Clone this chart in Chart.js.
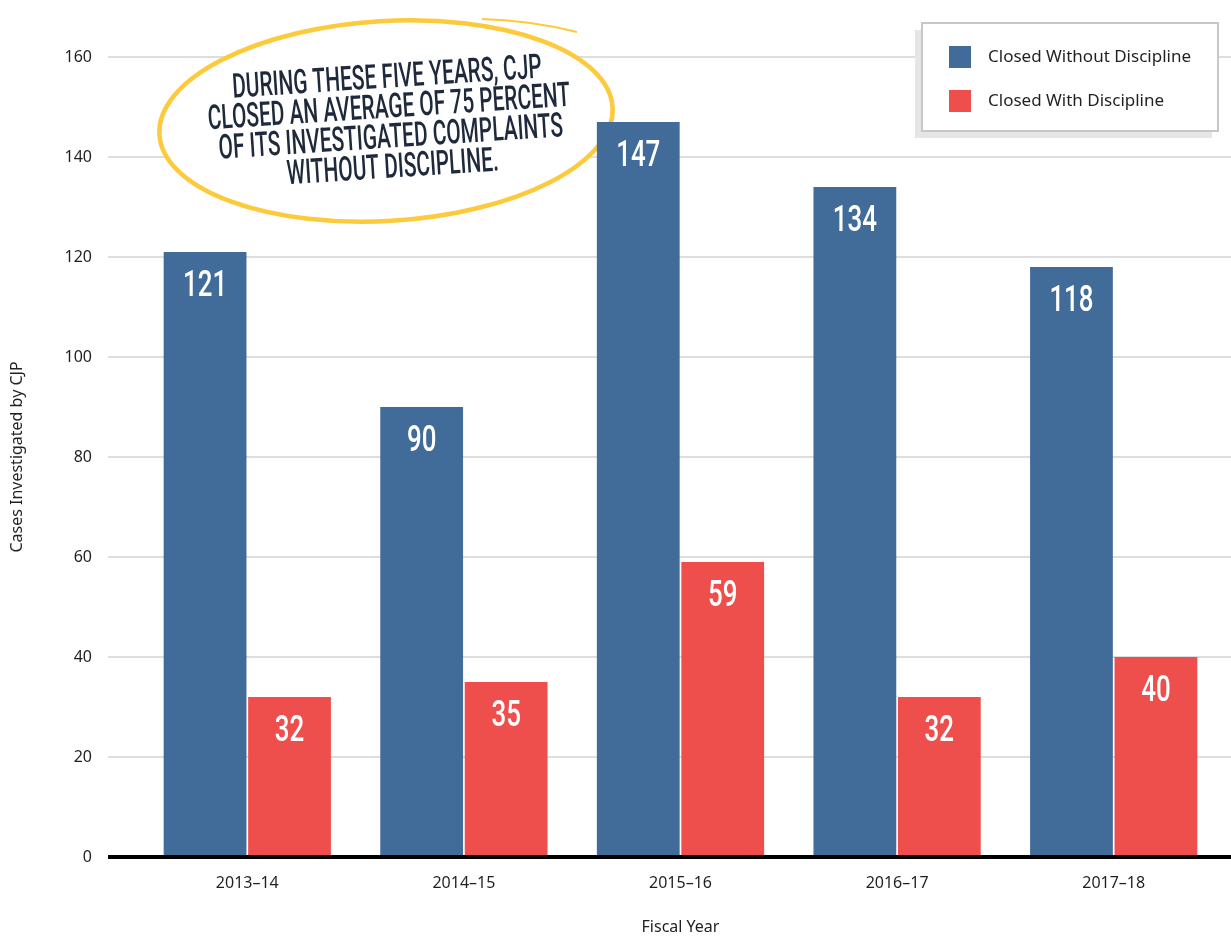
<!DOCTYPE html>
<html>
<head>
<meta charset="utf-8">
<script src="https://cdn.jsdelivr.net/npm/chart.js@4.4.0/dist/chart.umd.min.js"></script>
<style>
  html, body { margin: 0; padding: 0; background: #fff; }
</style>
</head>
<body>
<canvas id="canvas" width="1231" height="937"></canvas>
<script>
const years = ['2013–14', '2014–15', '2015–16', '2016–17', '2017–18']
const withoutDiscipline = [121, 90, 147, 134, 118]
const withDiscipline = [32, 35, 59, 32, 40]
const seriesNames = ['Closed Without Discipline', 'Closed With Discipline']
const seriesColors = ['#416b98', '#ef4f4c']
const yTicks = [0, 20, 40, 60, 80, 100, 120, 140, 160]
const calloutLines = [
  'DURING THESE FIVE YEARS, CJP',
  'CLOSED AN AVERAGE OF 75 PERCENT',
  'OF ITS INVESTIGATED COMPLAINTS',
  'WITHOUT DISCIPLINE.'
]

const textColor = '#231f20'
const baseFont = 'Noto Sans'
const condFont = 'Roboto, "DejaVu Sans Condensed", sans-serif'

// gridlines + yellow callout, under the bars
const backdrop = {
  id: 'backdrop',
  beforeDatasetsDraw(chart) {
    const ctx = chart.ctx
    const y = chart.scales.y
    ctx.save()
    ctx.strokeStyle = '#dedede'
    ctx.lineWidth = 2
    yTicks.forEach(v => {
      if (v === 0) return
      const py = Math.round(y.getPixelForValue(v))
      ctx.beginPath()
      ctx.moveTo(108, py)
      ctx.lineTo(1231, py)
      ctx.stroke()
    })

    // callout bubble
    ctx.beginPath()
    ctx.ellipse(386, 121, 227, 100, -0.06, 0, Math.PI * 2)
    ctx.fillStyle = '#fff'
    ctx.fill()
    ctx.strokeStyle = '#fcca3a'
    ctx.lineWidth = 4.5
    ctx.stroke()
    // little overlapping tail of the hand drawn loop
    ctx.beginPath()
    ctx.moveTo(482, 19)
    ctx.quadraticCurveTo(535, 21, 577, 32)
    ctx.lineWidth = 2
    ctx.stroke()

    ctx.translate(390, 124)
    ctx.rotate(-0.065)
    ctx.font = '500 34px ' + condFont
    ctx.fillStyle = '#1e2a3b'
    ctx.textAlign = 'center'
    ctx.textBaseline = 'middle'
    const sx = 363 / ctx.measureText(calloutLines[1]).width
    calloutLines.forEach((line, i) => {
      ctx.save()
      ctx.translate(0, (i - 1.5) * 30)
      ctx.scale(sx, 1)
      ctx.fillText(line, 0, 0)
      ctx.restore()
    })
    ctx.restore()
  }
}

// baseline, value labels, legend box
const overlay = {
  id: 'overlay',
  afterDatasetsDraw(chart) {
    const ctx = chart.ctx
    const y0 = chart.scales.y.getPixelForValue(0)
    ctx.save()
    ctx.strokeStyle = '#000'
    ctx.lineWidth = 4
    ctx.beginPath()
    ctx.moveTo(108, y0)
    ctx.lineTo(1231, y0)
    ctx.stroke()

    ctx.fillStyle = '#fff'
    ctx.font = '500 37px ' + condFont
    ctx.textAlign = 'center'
    ctx.textBaseline = 'middle'
    chart.data.datasets.forEach((ds, di) => {
      chart.getDatasetMeta(di).data.forEach((bar, i) => {
        ctx.save()
        ctx.translate(bar.x, bar.y + 35)
        ctx.scale(0.7, 1)
        ctx.fillText(String(ds.data[i]), 0, 0)
        ctx.restore()
      })
    })

    // legend
    ctx.fillStyle = '#e6e6e6'
    ctx.fillRect(915, 30, 297, 108)
    ctx.fillStyle = '#fff'
    ctx.fillRect(922, 23, 296, 108)
    ctx.strokeStyle = '#c8c8c8'
    ctx.lineWidth = 2
    ctx.strokeRect(922, 23, 296, 108)
    ctx.font = '17px "' + baseFont + '"'
    ctx.textAlign = 'left'
    ctx.textBaseline = 'middle'
    chart.data.datasets.forEach((ds, di) => {
      const ly = 57 + di * 44
      ctx.fillStyle = ds.backgroundColor
      ctx.fillRect(949, ly - 11, 22, 22)
      ctx.fillStyle = textColor
      ctx.fillText(ds.label, 988, ly)
    })
    ctx.restore()
  }
}

const ctx = document.getElementById('canvas').getContext('2d')
new Chart(ctx, {
  type: 'bar',
  data: {
    labels: years,
    datasets: [
      { label: seriesNames[0], data: withoutDiscipline, backgroundColor: seriesColors[0] },
      { label: seriesNames[1], data: withDiscipline, backgroundColor: seriesColors[1] }
    ]
  },
  options: {
    responsive: false,
    animation: false,
    devicePixelRatio: 1,
    layout: { padding: { top: 57, right: 9, left: 0, bottom: 0 } },
    datasets: { bar: { barPercentage: 0.98, categoryPercentage: 0.78, borderWidth: 0 } },
    plugins: { legend: { display: false }, tooltip: { enabled: false } },
    scales: {
      x: {
        grid: { display: false, drawTicks: false },
        border: { display: false },
        ticks: { color: textColor, font: { family: baseFont, size: 16 }, padding: 17 },
        title: {
          display: true, text: 'Fiscal Year', color: textColor,
          font: { family: baseFont, size: 16 }, padding: { top: 0, bottom: 0 }
        },
        afterFit: s => { s.height = 80 }
      },
      y: {
        min: 0, max: 160,
        grid: { display: false, drawTicks: false },
        border: { display: false },
        ticks: { stepSize: 20, color: textColor, font: { family: baseFont, size: 16 }, padding: 47 },
        title: {
          display: true, text: 'Cases Investigated by CJP', color: textColor,
          font: { family: baseFont, size: 16 }, padding: { top: 8, bottom: 0 }
        },
        afterFit: s => { s.width = 139 }
      }
    }
  },
  plugins: [backdrop, overlay]
})
</script>
</body>
</html>
